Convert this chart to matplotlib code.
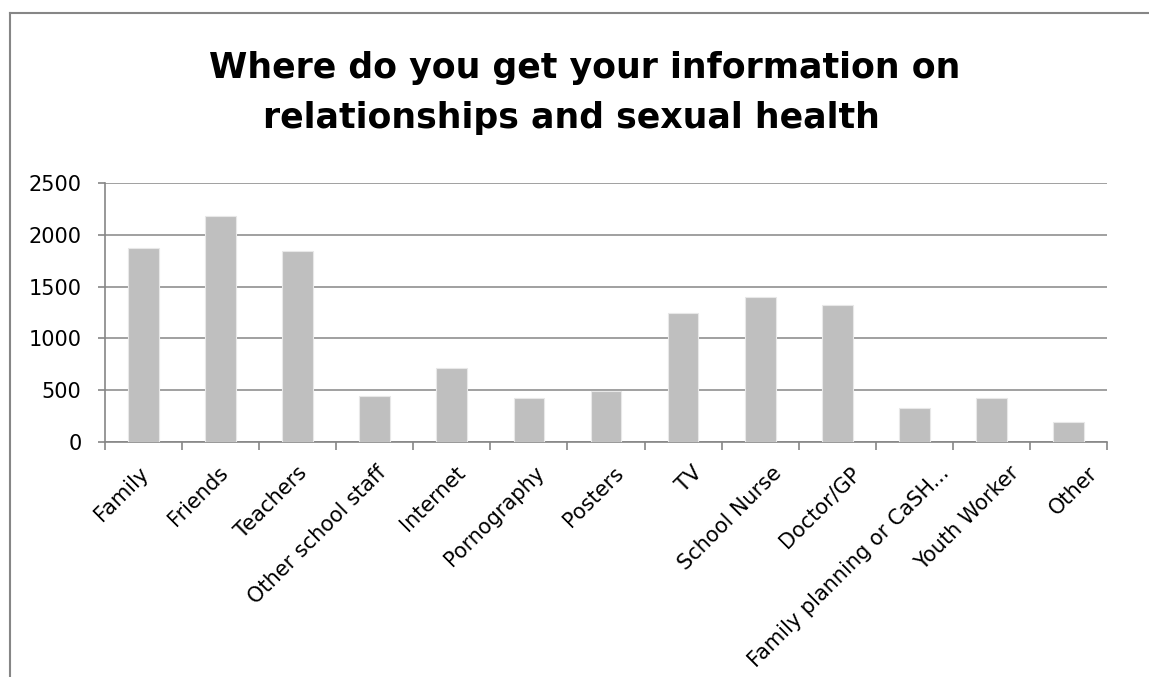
import matplotlib.pyplot as plt
import numpy as np
from matplotlib.lines import Line2D
from matplotlib.transforms import ScaledTranslation

categories = ['Family', 'Friends', 'Teachers', 'Other school staff', 'Internet',
              'Pornography', 'Posters', 'TV', 'School Nurse', 'Doctor/GP',
              'Family planning or CaSH...', 'Youth Worker', 'Other']
counts = [1870, 2180, 1845, 441, 711, 425, 492, 1245, 1403, 1322, 328, 421, 193]
y_ticks = [0, 500, 1000, 1500, 2000, 2500]
title_lines = ['Where do you get your information on', 'relationships and sexual health']

plt.rcParams['font.family'] = ['DejaVu Sans']
W, H = 1149, 677
fig = plt.figure(figsize=(W / 100, H / 100), dpi=100)
ax = fig.add_axes([105 / W, 1 - 442 / H, (1107 - 105) / W, (442 - 183) / H])

grey = '#868686'
x = np.arange(len(categories))
ax.bar(x, counts, width=0.4, color='#BFBFBF', edgecolor='#E8E8E8', linewidth=0.8, zorder=3)

ax.set_xlim(-0.5, len(categories) - 0.5)
ax.set_ylim(0, 2500)
ax.set_yticks(y_ticks)
ax.set_yticklabels([str(v) for v in y_ticks], fontsize=15)
ax.yaxis.grid(True, color=grey, linewidth=1.1, zorder=0)
ax.set_axisbelow(True)

# category labels sit under bar centres, tick marks sit between categories
ax.set_xticks(x)
ax.set_xticklabels(categories, rotation=45, ha='right', rotation_mode='anchor', fontsize=15)
ax.tick_params(axis='x', length=0, pad=15)
ax.set_xticks(np.arange(len(categories) + 1) - 0.5, minor=True)
ax.tick_params(axis='x', which='minor', length=6, width=1.2, color=grey, direction='out')
ax.tick_params(axis='y', length=5, width=1.2, color=grey, pad=12)

# labels drift a little to the right along the axis
for i, lab in enumerate(ax.get_xticklabels()):
    dx = -5 + 2 * i
    if len(lab.get_text()) > 20:
        dx += 10
    lab.set_transform(lab.get_transform() + ScaledTranslation(dx / 100, 0, fig.dpi_scale_trans))

for side in ['top', 'right']:
    ax.spines[side].set_visible(False)
for side in ['left', 'bottom']:
    ax.spines[side].set_color(grey)
    ax.spines[side].set_linewidth(1.2)

# two-line title, each line placed on its own baseline
fig.text(585 / W, 1 - 78 / H, title_lines[0], ha='center', va='baseline',
         fontsize=25, fontweight='bold')
fig.text(571 / W, 1 - 128 / H, title_lines[1], ha='center', va='baseline',
         fontsize=25, fontweight='bold')

# chart area frame
fig.add_artist(Line2D([10 / W, 1], [1 - 13 / H, 1 - 13 / H], color=grey, linewidth=1.5))
fig.add_artist(Line2D([10 / W, 10 / W], [0, 1 - 13 / H], color=grey, linewidth=1.5))

fig.savefig('out.png', dpi=100)
